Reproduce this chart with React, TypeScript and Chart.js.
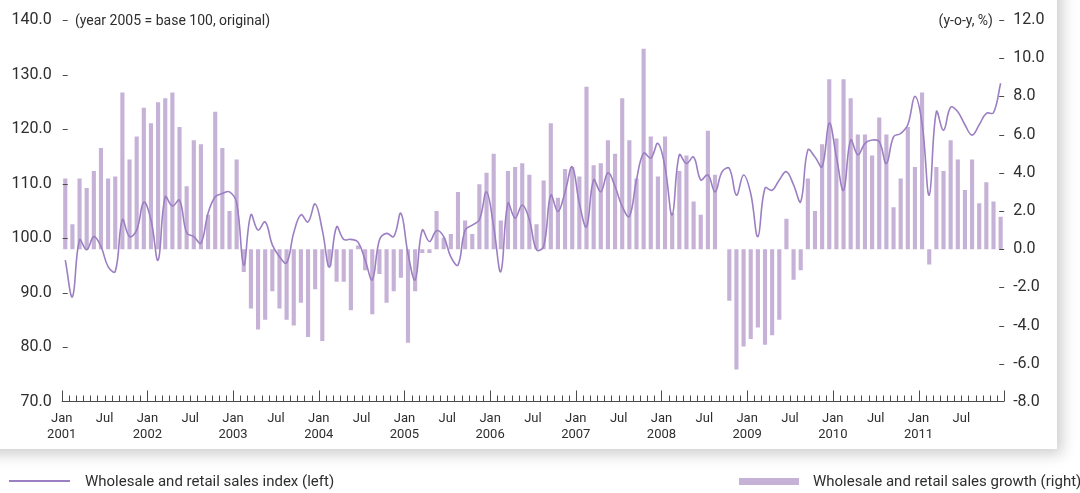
import React, { useEffect, useRef } from 'react';
import { Chart, registerables } from 'chart.js';

Chart.register(...registerables);

const monthNames = ['Jan', 'Feb', 'Mar', 'Apr', 'May', 'Jun', 'Jul', 'Aug', 'Sep', 'Oct', 'Nov', 'Dec'];
const years = ['2001', '2002', '2003', '2004', '2005', '2006', '2007', '2008', '2009', '2010', '2011'];
const categories: string[] = years.flatMap((y) => monthNames.map((m) => `${m} ${y}`));

// Wholesale and retail sales index (left axis, 2005 = 100)
const salesIndex = [
  96.0, 89.3, 99.7, 97.9, 100.3, 98.5, 94.8, 93.9, 103.4, 100.3, 101.5, 106.6,
  103.4, 96.0, 107.6, 105.9, 107.0, 101.0, 100.3, 99.1, 104.6, 107.6, 108.2, 108.5,
  106.5, 95.1, 104.3, 101.5, 103.0, 98.8, 96.6, 95.5, 101.0, 104.3, 103.0, 106.3,
  101.5, 94.7, 102.1, 99.8, 99.8, 99.3, 96.0, 92.4, 99.7, 100.9, 100.3, 104.6,
  97.2, 92.4, 101.5, 99.4, 101.4, 100.3, 96.6, 95.1, 101.5, 102.4, 103.4, 108.5,
  102.1, 93.9, 106.4, 103.7, 106.1, 103.4, 97.9, 98.5, 107.9, 104.9, 108.5, 113.1,
  106.4, 102.1, 110.7, 108.5, 112.0, 109.5, 105.8, 104.0, 110.7, 115.6, 114.7, 117.4,
  113.0, 104.3, 115.3, 113.7, 114.9, 110.7, 111.6, 108.5, 112.2, 112.8, 107.9, 111.6,
  108.2, 100.3, 109.2, 108.8, 110.7, 112.2, 109.8, 106.7, 116.2, 114.9, 113.1, 121.1,
  114.9, 108.8, 118.0, 115.3, 117.4, 118.0, 117.7, 113.7, 118.6, 119.2, 120.8, 126.0,
  121.0, 107.9, 123.2, 119.8, 124.0, 123.2, 120.8, 118.9, 120.8, 122.9, 123.0, 128.4,
];

// Wholesale and retail sales growth (right axis, y-o-y %)
const salesGrowth = [
  3.7, 1.3, 3.7, 3.2, 4.1, 5.3, 3.7, 3.8, 8.2, 4.7, 5.9, 7.4,
  6.6, 7.7, 7.9, 8.2, 6.4, 3.3, 5.7, 5.5, 1.8, 7.2, 5.3, 2.0,
  4.7, -1.2, -3.1, -4.2, -3.7, -2.2, -3.1, -3.7, -4.0, -2.8, -4.6, -2.1,
  -4.8, -0.9, -1.7, -1.7, -3.2, 0.2, -1.1, -3.4, -1.3, -2.8, -2.2, -1.5,
  -4.9, -2.2, -0.2, -0.2, 2.0, 0.6, 0.8, 3.0, 1.5, 0.8, 3.4, 4.0,
  5.0, 1.5, 4.1, 4.3, 4.5, 3.9, 1.3, 3.6, 6.6, 2.7, 4.2, 4.3,
  3.8, 8.5, 4.4, 4.5, 5.7, 5.0, 7.9, 5.7, 3.7, 10.5, 5.9, 3.8,
  5.9, 1.9, 4.1, 4.9, 2.5, 1.8, 6.2, 3.9, 0.0, -2.7, -6.3, -5.1,
  -4.7, -4.1, -5.0, -4.5, -3.7, 1.6, -1.6, -1.1, 3.7, 2.0, 5.5, 8.9,
  5.8, 8.9, 7.9, 6.0, 6.0, 4.9, 6.9, 6.0, 2.2, 3.7, 6.4, 4.3,
  8.2, -0.8, 4.3, 4.1, 5.7, 4.7, 3.1, 4.7, 2.4, 3.5, 2.5, 1.7,
];

const leftAxisTitle = '(year 2005 = base 100, original)';
const rightAxisTitle = '(y-o-y, %)';
const lineLabel = 'Wholesale and retail sales index (left)';
const barLabel = 'Wholesale and retail sales growth (right)';

const LINE_COLOR = '#9b7fc2';
const BAR_COLOR = '#c6b1d7';
const AXIS_COLOR = '#4a4a4a';
const TEXT_COLOR = '#2e2e2e';
const FONT = 'Roboto, "Noto Sans", sans-serif';

const axisPlugin = {
  id: 'customAxes',
  afterDatasetsDraw(chart: any) {
    const { ctx, chartArea, scales } = chart;
    const { left, right, bottom } = chartArea;
    const x = scales.x;
    const n = categories.length;
    const band = x.getPixelForValue(1) - x.getPixelForValue(0);
    ctx.save();
    ctx.strokeStyle = AXIS_COLOR;
    ctx.lineWidth = 1;
    ctx.beginPath();
    const by = Math.round(bottom) - 0.5;
    ctx.moveTo(left, by);
    ctx.lineTo(right, by);
    for (let i = 0; i <= n; i++) {
      const px = i < n ? x.getPixelForValue(i) - band / 2 : x.getPixelForValue(n - 1) + band / 2;
      const xx = Math.round(px) + 0.5;
      const isJan = i === n || categories[i].startsWith('Jan');
      const h = isJan ? 11 : 6;
      ctx.moveTo(xx, by);
      ctx.lineTo(xx, by - h);
    }
    const yL = scales.yL;
    yL.ticks.forEach((t: any) => {
      if (t.value <= yL.min) return;
      const yy = Math.round(yL.getPixelForValue(t.value)) + 0.5;
      ctx.moveTo(left + 1, yy);
      ctx.lineTo(left + 6, yy);
    });
    const yR = scales.yR;
    yR.ticks.forEach((t: any) => {
      if (t.value <= yR.min) return;
      const yy = Math.round(yR.getPixelForValue(t.value)) + 0.5;
      ctx.moveTo(right - 5, yy);
      ctx.lineTo(right, yy);
    });
    ctx.stroke();
    ctx.restore();
  },
};

export default function App() {
  const canvasRef = useRef<HTMLCanvasElement | null>(null);

  useEffect(() => {
    if (!canvasRef.current) return;
    const chart = new Chart(canvasRef.current, {
      type: 'bar',
      data: {
        labels: categories,
        datasets: [
          {
            type: 'line',
            label: lineLabel,
            data: salesIndex,
            yAxisID: 'yL',
            borderColor: LINE_COLOR,
            borderWidth: 1.6,
            pointRadius: 0,
            tension: 0.4,
            fill: false,
            order: 0,
          } as any,
          {
            type: 'bar',
            label: barLabel,
            data: salesGrowth,
            yAxisID: 'yR',
            backgroundColor: BAR_COLOR,
            barPercentage: 0.58,
            categoryPercentage: 1,
            order: 1,
          },
        ],
      },
      options: {
        responsive: false,
        animation: false,
        maintainAspectRatio: false,
        layout: { padding: { top: 20, left: 0, right: 0, bottom: 0 } },
        plugins: { legend: { display: false }, tooltip: { enabled: false } },
        scales: {
          x: {
            type: 'category',
            offset: true,
            grid: { display: false, drawTicks: false },
            border: { display: false },
            afterFit: (s: any) => {
              s.height = 91;
            },
            ticks: {
              autoSkip: false,
              maxRotation: 0,
              minRotation: 0,
              padding: 9,
              labelOffset: -3.57,
              color: TEXT_COLOR,
              font: { family: FONT, size: 13, lineHeight: 1.2 },
              callback: (_v: any, i: number) => {
                const [m, y] = categories[i].split(' ');
                if (m === 'Jan') return ['Jan', y];
                if (m === 'Jul') return 'Jul';
                return '';
              },
            },
          },
          yL: {
            type: 'linear',
            position: 'left',
            min: 70,
            max: 140,
            grid: { display: false, drawTicks: false },
            border: { display: false },
            afterFit: (s: any) => {
              s.width = 61.7;
            },
            ticks: {
              stepSize: 10,
              padding: 10,
              color: TEXT_COLOR,
              font: { family: FONT, size: 16 },
              callback: (v: any) => Number(v).toFixed(1),
            },
          },
          yR: {
            type: 'linear',
            position: 'right',
            min: -8,
            max: 12,
            grid: { display: false, drawTicks: false },
            border: { display: false },
            afterFit: (s: any) => {
              s.width = 75.8;
            },
            ticks: {
              stepSize: 2,
              padding: 9,
              crossAlign: 'near',
              color: TEXT_COLOR,
              font: { family: FONT, size: 16 },
              callback: (v: any) => Number(v).toFixed(1),
            },
          },
        },
      },
      plugins: [axisPlugin],
    });
    return () => chart.destroy();
  }, []);

  const textStyle: React.CSSProperties = {
    position: 'absolute',
    fontFamily: FONT,
    fontSize: 14,
    color: TEXT_COLOR,
    lineHeight: '20px',
    whiteSpace: 'nowrap',
  };

  return (
    <div
      style={{
        position: 'absolute',
        left: 0,
        top: 0,
        width: 1080,
        height: 493,
        background: '#ffffff',
        overflow: 'hidden',
      }}
    >
      <div
        style={{
          position: 'absolute',
          left: -30,
          top: -30,
          width: 1087,
          height: 479,
          background: '#ffffff',
          boxShadow: '5px 5px 14px rgba(0,0,0,0.2)',
        }}
      />
      <canvas
        ref={canvasRef}
        width={1080}
        height={493}
        style={{ position: 'absolute', left: 0, top: 0, width: 1080, height: 493 }}
      />
      <div style={{ ...textStyle, left: 75, top: 10 }}>{leftAxisTitle}</div>
      <div style={{ ...textStyle, right: 1080 - 993, top: 10, textAlign: 'right' }}>{rightAxisTitle}</div>
      <div style={{ position: 'absolute', left: 9, top: 480, width: 61, height: 2, background: LINE_COLOR }} />
      <div style={{ ...textStyle, fontSize: 15, left: 85, top: 471 }}>{lineLabel}</div>
      <div style={{ position: 'absolute', left: 739, top: 478, width: 60, height: 7, background: BAR_COLOR }} />
      <div style={{ ...textStyle, fontSize: 15, left: 813, top: 471 }}>{barLabel}</div>
    </div>
  );
}
